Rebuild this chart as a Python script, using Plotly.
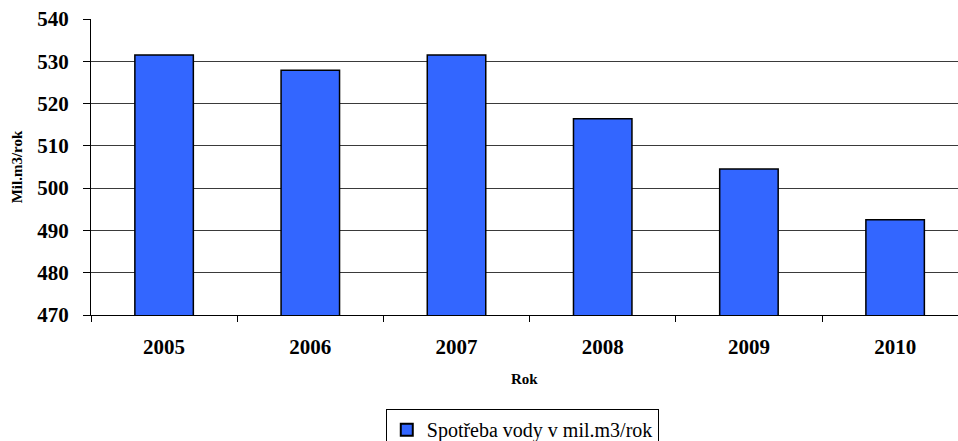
import plotly.graph_objects as go

# Annual water consumption (million m3 per year)
years = ["2005", "2006", "2007", "2008", "2009", "2010"]
consumption = [531.5, 527.9, 531.5, 516.4, 504.5, 492.5]
y_ticks = [470, 480, 490, 500, 510, 520, 530, 540]
series_name = "Spotřeba vody v mil.m3/rok"

FONT = "'Liberation Serif', 'DejaVu Serif', serif"

fig = go.Figure(
    go.Bar(
        x=years,
        y=consumption,
        name=series_name,
        width=0.4,
        marker=dict(color="#3366FF", line=dict(color="#000000", width=1.5)),
        showlegend=True,
    )
)

fig.update_layout(
    width=958,
    height=441,
    margin=dict(l=91, r=0, t=19, b=126, autoexpand=False),
    paper_bgcolor="white",
    plot_bgcolor="white",
    font=dict(family=FONT, color="black"),
    bargap=0.6,
    legend=dict(
        x=0.34,
        y=-0.318,
        xanchor="left",
        yanchor="top",
        bordercolor="black",
        borderwidth=1,
        font=dict(family=FONT, size=20, color="black"),
        itemsizing="constant",
        itemwidth=30,
    ),
    showlegend=True,
)

fig.update_xaxes(
    type="category",
    range=[-0.5, 5.43],
    tickson="boundaries",
    ticks="outside",
    ticklen=6,
    tickcolor="black",
    showline=True,
    linecolor="black",
    linewidth=1,
    showgrid=False,
    tickfont=dict(family=FONT, size=21, color="black", weight="bold"),
    ticklabelstandoff=13,
)

fig.update_yaxes(
    range=[470, 540],
    tickvals=y_ticks,
    ticks="outside",
    ticklen=7,
    tickcolor="black",
    showline=True,
    linecolor="black",
    linewidth=1,
    showgrid=True,
    gridcolor="#3a3a3a",
    gridwidth=1,
    zeroline=False,
    tickfont=dict(family=FONT, size=21, color="black", weight="bold"),
    ticklabelstandoff=10,
)

# Axis titles
fig.add_annotation(
    text="<b>Rok</b>", xref="paper", yref="paper", x=0.5, y=-0.215,
    xanchor="center", yanchor="middle", showarrow=False,
    font=dict(family=FONT, size=15, color="black"),
)
fig.add_annotation(
    text="<b>Mil.m3/rok</b>", xref="paper", yref="paper", x=-0.085, y=0.5,
    xanchor="center", yanchor="middle", showarrow=False, textangle=-90,
    font=dict(family=FONT, size=15, color="black"),
)

fig.write_html("out.html")
